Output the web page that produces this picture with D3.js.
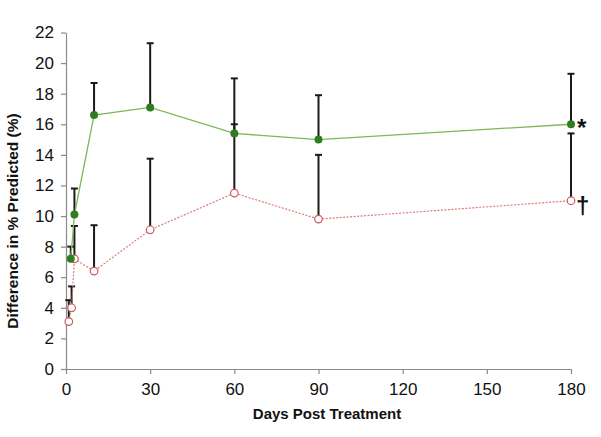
<!DOCTYPE html>
<html>
<head>
<meta charset="utf-8">
<script src="https://cdn.jsdelivr.net/npm/d3@7"></script>
<style>
  html, body { margin: 0; padding: 0; background: #fff; }
  svg { display: block; font-family: "Liberation Sans", Arial, sans-serif; }
</style>
</head>
<body>
<svg id="chart" width="601" height="437"></svg>
<script>
// ---- data ----
const xTicks = [0, 30, 60, 90, 120, 150, 180];
const yTicks = [0, 2, 4, 6, 8, 10, 12, 14, 16, 18, 20, 22];

const greenDays  = [1.7, 3, 10, 30, 60, 90, 180];
const greenVals  = [7.2, 10.1, 16.6, 17.1, 15.4, 15.0, 16.0];
const greenUpper = [8.0, 11.8, 18.7, 21.3, 19.0, 17.9, 19.3];

const pinkDays  = [1, 2, 3, 10, 30, 60, 90, 180];
const pinkVals  = [3.1, 4.0, 7.2, 6.4, 9.1, 11.5, 9.8, 11.0];
const pinkUpper = [4.5, 5.4, 9.35, 9.4, 13.75, 16.0, 14.0, 15.4];

const xTitle = "Days Post Treatment";
const yTitle = "Difference in % Predicted (%)";
const greenMark = "*";
const pinkMark = "\u2020";

// ---- layout ----
const svg = d3.select("#chart");
const x = d3.scaleLinear().domain([0, 180]).range([66, 571]);
const y = d3.scaleLinear().domain([0, 22]).range([369, 32.5]);

const axisColor = "#8a8a8a";

// axes
const xAxis = svg.append("g")
  .attr("transform", `translate(0,${y(0)})`)
  .call(d3.axisBottom(x).tickValues(xTicks).tickSize(5).tickSizeOuter(0).tickPadding(9));
const yAxis = svg.append("g")
  .attr("transform", `translate(${x(0)},0)`)
  .call(d3.axisLeft(y).tickValues(yTicks).tickSize(5).tickSizeOuter(0).tickPadding(7));

[xAxis, yAxis].forEach(g => {
  g.select(".domain").attr("stroke", axisColor).attr("stroke-width", 1.2);
  g.selectAll(".tick line").attr("stroke", axisColor).attr("stroke-width", 1.2);
  g.selectAll(".tick text")
    .attr("fill", "#111")
    .style("font-size", "17px")
    .style("font-family", "'Liberation Sans', Arial, sans-serif");
});

// titles
svg.append("text")
  .attr("x", 327).attr("y", 419)
  .attr("text-anchor", "middle")
  .style("font-size", "15px").style("font-weight", "bold")
  .attr("fill", "#111")
  .text(xTitle);

svg.append("text")
  .attr("transform", `translate(18,221) rotate(-90)`)
  .attr("text-anchor", "middle")
  .style("font-size", "15.5px").style("font-weight", "bold")
  .attr("fill", "#111")
  .text(yTitle);

// error bars
function errorBars(days, vals, upper) {
  const g = svg.append("g");
  days.forEach((d, i) => {
    g.append("line")
      .attr("x1", x(d)).attr("x2", x(d))
      .attr("y1", y(vals[i])).attr("y2", y(upper[i]))
      .attr("stroke", "#1a1a1a").attr("stroke-width", 2);
    g.append("line")
      .attr("x1", x(d) - 3.5).attr("x2", x(d) + 3.5)
      .attr("y1", y(upper[i])).attr("y2", y(upper[i]))
      .attr("stroke", "#1a1a1a").attr("stroke-width", 2);
  });
}
errorBars(pinkDays, pinkVals, pinkUpper);
errorBars(greenDays, greenVals, greenUpper);

// lines
const line = d3.line().x(d => x(d[0])).y(d => y(d[1]));
svg.append("path")
  .datum(pinkDays.map((d, i) => [d, pinkVals[i]]))
  .attr("d", line)
  .attr("fill", "none")
  .attr("stroke", "#e07a7a")
  .attr("stroke-width", 1.2)
  .attr("stroke-dasharray", "2,1.5");
svg.append("path")
  .datum(greenDays.map((d, i) => [d, greenVals[i]]))
  .attr("d", line)
  .attr("fill", "none")
  .attr("stroke", "#7cb85a")
  .attr("stroke-width", 1.3);

// markers
svg.append("g").selectAll("circle")
  .data(pinkDays.map((d, i) => [d, pinkVals[i]]))
  .join("circle")
  .attr("cx", d => x(d[0])).attr("cy", d => y(d[1]))
  .attr("r", 3.8)
  .attr("fill", "#fff")
  .attr("stroke", "#d0585e")
  .attr("stroke-width", 1.2);
svg.append("g").selectAll("circle")
  .data(greenDays.map((d, i) => [d, greenVals[i]]))
  .join("circle")
  .attr("cx", d => x(d[0])).attr("cy", d => y(d[1]))
  .attr("r", 4)
  .attr("fill", "#2f7d1f");

// significance marks
const last = greenDays.length - 1;
svg.append("text")
  .attr("x", x(greenDays[last]) + 6).attr("y", y(greenVals[last]) + 12)
  .style("font-size", "24px").style("font-weight", "bold")
  .attr("fill", "#111")
  .text(greenMark);
const lastP = pinkDays.length - 1;
svg.append("text")
  .attr("x", x(pinkDays[lastP]) + 5).attr("y", y(pinkVals[lastP]) + 13)
  .style("font-size", "24px").style("font-weight", "bold")
  .attr("fill", "#111")
  .text(pinkMark);
</script>
</body>
</html>
